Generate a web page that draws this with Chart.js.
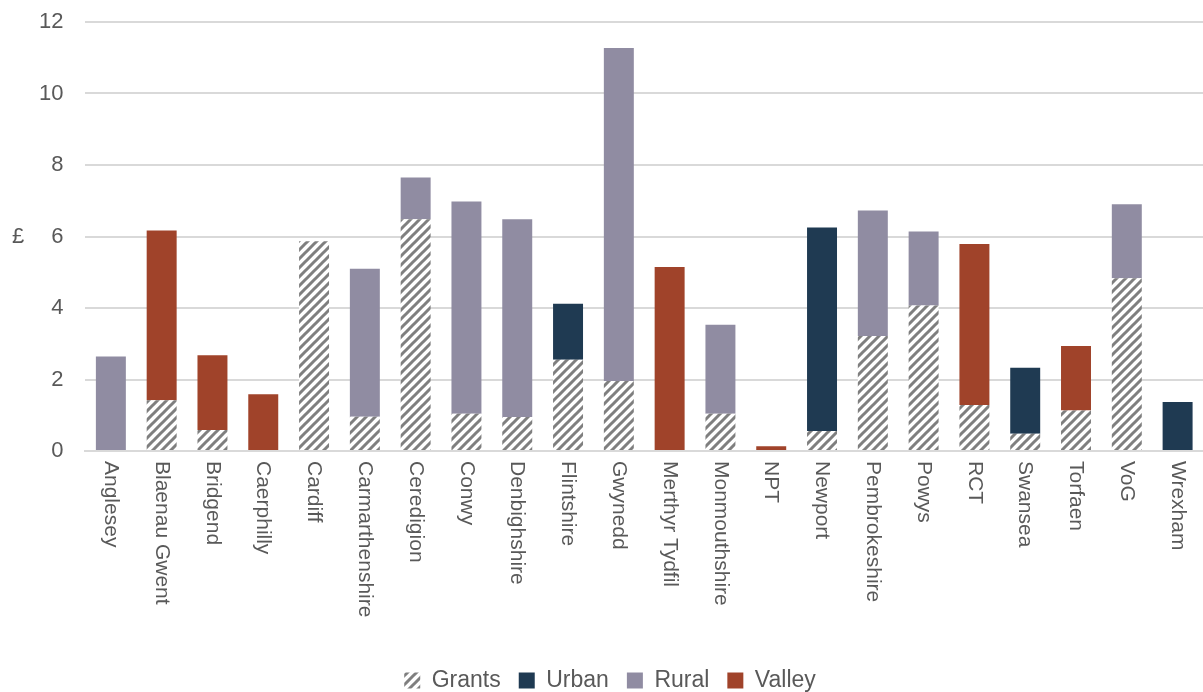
<!DOCTYPE html>
<html>
<head>
<meta charset="utf-8">
<script src="https://cdn.jsdelivr.net/npm/chart.js@4.4.1/dist/chart.umd.min.js"></script>
<style>
  html, body { margin: 0; padding: 0; background: #fff; }
  #wrap { width: 1203px; height: 692px; position: relative; }
</style>
</head>
<body>
<div id="wrap"><canvas id="chart"></canvas></div>
<script>
const authorities = ["Anglesey", "Blaenau Gwent", "Bridgend", "Caerphilly", "Cardiff",
  "Carmarthenshire", "Ceredigion", "Conwy", "Denbighshire", "Flintshire", "Gwynedd",
  "Merthyr Tydfil", "Monmouthshire", "NPT", "Newport", "Pembrokeshire", "Powys", "RCT",
  "Swansea", "Torfaen", "VoG", "Wrexham"];

const grants = [0, 1.42, 0.59, 0, 5.87, 0.96, 6.48, 1.04, 0.95, 2.55, 1.96,
  0, 1.04, 0, 0.56, 3.22, 4.07, 1.29, 0.48, 1.13, 4.83, 0];
const urban = [0, 0, 0, 0, 0, 0, 0, 0, 0, 1.57, 0,
  0, 0, 0, 5.69, 0, 0, 0, 1.85, 0, 0, 1.37];
const rural = [2.64, 0, 0, 0, 0, 4.14, 1.17, 5.94, 5.53, 0, 9.31,
  0, 2.49, 0, 0, 3.51, 2.07, 0, 0, 0, 2.07, 0];
const valley = [0, 4.75, 2.09, 1.59, 0, 0, 0, 0, 0, 0, 0,
  5.15, 0, 0.13, 0, 0, 0, 4.50, 0, 1.81, 0, 0];

const yTicks = [0, 2, 4, 6, 8, 10, 12];

const textColor = "#595959";
const font = "Liberation Sans, Arial, sans-serif";

// diagonal hatch for the grants part
function hatch() {
  const c = document.createElement("canvas");
  c.width = 9; c.height = 9;
  const g = c.getContext("2d");
  g.fillStyle = "#fff";
  g.fillRect(0, 0, 9, 9);
  g.strokeStyle = "#7f7f7f";
  g.lineWidth = 3;
  g.beginPath();
  g.moveTo(-2, 11); g.lineTo(11, -2);
  g.moveTo(-5, 5); g.lineTo(5, -5);
  g.moveTo(4, 14); g.lineTo(14, 4);
  g.stroke();
  return g.createPattern(c, "repeat");
}

// £ on the left + category names reading top to bottom
const extras = {
  id: "extras",
  afterDraw(chart) {
    const ctx = chart.ctx;
    const x = chart.scales.x, y = chart.scales.y;
    ctx.save();
    ctx.fillStyle = textColor;
    ctx.textAlign = "left";
    ctx.textBaseline = "middle";
    ctx.font = "22px " + font;
    ctx.fillText("£", 12, y.getPixelForValue(6));
    ctx.font = "21px " + font;
    authorities.forEach((name, i) => {
      ctx.save();
      ctx.translate(x.getPixelForValue(i), chart.chartArea.bottom + 10);
      ctx.rotate(Math.PI / 2);
      ctx.fillText(name, 0, 0);
      ctx.restore();
    });
    ctx.restore();
  }
};

const ctx = document.getElementById("chart").getContext("2d");
const pattern = hatch();

new Chart(ctx, {
  type: "bar",
  data: {
    labels: authorities,
    datasets: [
      { label: "Grants", data: grants, backgroundColor: pattern },
      { label: "Urban", data: urban, backgroundColor: "#1f3a52" },
      { label: "Rural", data: rural, backgroundColor: "#908ca2" },
      { label: "Valley", data: valley, backgroundColor: "#a0432a" }
    ]
  },
  options: {
    responsive: true,
    maintainAspectRatio: false,
    animation: false,
    layout: { padding: { left: 17, right: 0, top: 22, bottom: -10 } },
    datasets: { bar: { barPercentage: 0.59, categoryPercentage: 1 } },
    plugins: {
      legend: {
        position: "bottom",
        labels: {
          color: textColor,
          font: { size: 23, family: font },
          boxWidth: 16,
          boxHeight: 16,
          padding: 18
        }
      },
      tooltip: { enabled: false }
    },
    scales: {
      x: {
        stacked: true,
        grid: { display: false },
        border: { color: "#d9d9d9", width: 2 },
        ticks: { display: false },
        afterFit(scale) { scale.height = 200; }
      },
      y: {
        stacked: true,
        min: 0,
        max: 12,
        afterBuildTicks(scale) { scale.ticks = yTicks.map(v => ({ value: v })); },
        afterFit(scale) { scale.paddingTop = 0; scale.paddingBottom = 0; },
        grid: { color: "#d9d9d9", lineWidth: 2, drawTicks: false },
        border: { display: false },
        ticks: {
          color: textColor,
          font: { size: 22, family: font },
          padding: 22
        }
      }
    }
  },
  plugins: [extras]
});
</script>
</body>
</html>
